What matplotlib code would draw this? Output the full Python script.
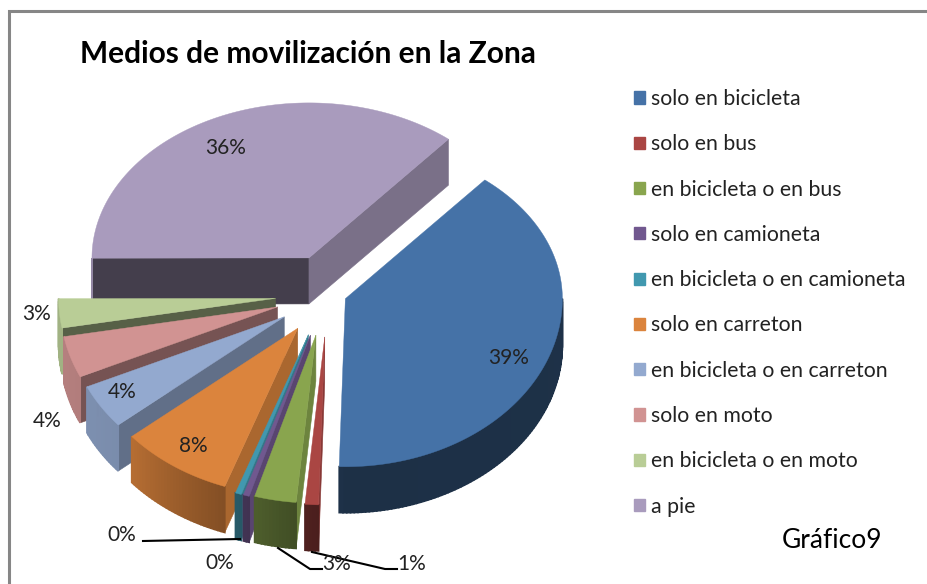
import matplotlib
matplotlib.use('Agg')
import matplotlib.pyplot as plt
import numpy as np
from matplotlib.patches import Patch

plt.rcParams['font.family'] = ['Lato', 'DejaVu Sans']

# datos
categorias = ['solo en bicicleta', 'solo en bus', 'en bicicleta o en bus', 'solo en camioneta',
              'en bicicleta o en camioneta', 'solo en carreton', 'en bicicleta o en carreton',
              'solo en moto', 'en bicicleta o en moto', 'a pie']
valores = [39.3, 1.0, 3.1, 0.45, 0.45, 8.4, 4.3, 4.0, 2.8, 36.1]
colores = ['#4572A7', '#AA4643', '#89A54E', '#71588F', '#4198AF',
           '#DB843D', '#93A9CF', '#D19392', '#B9CD96', '#A99BBD']
explode = [0.125, 0.175, 0.175, 0.18, 0.18, 0.18, 0.195, 0.21, 0.21, 0.12]
ajuste_x = [-1, 6, 2, 1, 0, -1, -1, 0, 0, -1]
ajuste_y = [0, 1, 0, 0, 0, 0, 1, 3, 7, 3]

# geometria del pastel en pixeles
cx, cy = 321, 286
a = 217
b_frente, b_atras = 168, 155
b_exp = 286
prof = 46
inicio = 40


def oscurecer(color, f):
    rgb = np.array(matplotlib.colors.to_rgb(color))
    return tuple(rgb * f)


def sombra_borde(t):
    return np.interp(t, [90, 180, 200, 230, 262], [0.43, 0.42, 0.6, 0.83, 0.87])


def punto(ox, oy, t):
    r = np.radians(t)
    b = np.where(np.cos(r) > 0, b_atras, b_frente)
    return ox + a * np.sin(r), oy - b * np.cos(r)


fig = plt.figure(figsize=(9.27, 5.84), dpi=100)
ax = fig.add_axes([0, 0, 1, 1])
ax.set_xlim(0, 927)
ax.set_ylim(584, 0)
ax.axis('off')

# angulos de cada porcion
bordes = inicio + np.concatenate([[0], np.cumsum(valores)]) * 360 / sum(valores)

porciones = []
for i, v in enumerate(valores):
    t0, t1 = bordes[i], bordes[i + 1]
    tm = np.radians((t0 + t1) / 2)
    ox = cx + explode[i] * a * np.sin(tm) + ajuste_x[i]
    oy = cy - explode[i] * b_exp * np.cos(tm) + ajuste_y[i]
    porciones.append((i, t0, t1, ox, oy))

# de atras hacia adelante
orden = [9, 8, 7, 6, 5, 4, 3, 2, 1, 0]
for i, t0, t1, ox, oy in [porciones[k] for k in orden]:
    col = colores[i]

    # cara radial inicial y final
    caras = [(t0, np.sin(np.radians(t0)) < 0), (t1, np.sin(np.radians(t1)) > 0)]
    for t, visible in caras:
        if visible:
            x, y = punto(ox, oy, t)
            f = 0.4 + 0.4 * abs(np.cos(np.radians(t))) if i != 9 else (0.4 if t < 360 else 0.72)
            ax.fill([ox, x, x, ox], [oy, y, y + prof, oy + prof], color=oscurecer(col, f), lw=0.4)

    # borde exterior, solo la parte de adelante
    ini = max(t0, 90)
    fin = min(t1, 270)
    if fin > ini:
        ts = np.linspace(ini, fin, max(int(fin - ini) + 2, 3))
        for t_a, t_b in zip(ts[:-1], ts[1:]):
            xa, ya = punto(ox, oy, t_a)
            xb, yb = punto(ox, oy, t_b)
            ax.fill([xa, xb, xb, xa], [ya, yb, yb + prof, ya + prof],
                    color=oscurecer(col, sombra_borde((t_a + t_b) / 2)), lw=1.2)

    # cara superior
    ts = np.linspace(t0, t1, max(int(t1 - t0) * 2 + 2, 4))
    xs, ys = punto(ox, oy, ts)
    ax.fill(np.r_[ox, xs], np.r_[oy, ys], color=col, lw=0.3)

# etiquetas
etiq_pos = [(509, 358), (412, 564), (337, 564), (220, 563), (122, 535),
            (193, 446), (122, 392), (47, 421), (37, 314), (226, 148)]
for v, (x, y) in zip(valores, etiq_pos):
    ax.text(x, y, f'{round(v)}%', fontsize=15, color='#222222', ha='center', va='center')

# lineas guia
ax.plot([143, 240], [541, 539], color='black', lw=1.5)
ax.plot([278, 310, 322], [548, 569, 569], color='black', lw=1.5)
ax.plot([312, 385, 397], [552, 569, 569], color='black', lw=1.5)

# titulo
ax.text(80, 54, 'Medios de movilización en la Zona', fontsize=21.5, fontweight='bold',
        color='black', ha='left', va='center')

# leyenda
handles = [Patch(color=c, label=n) for c, n in zip(colores, categorias)]
ax.legend(handles=handles, loc='upper left', bbox_to_anchor=(634 / 927, 1 - 89 / 584),
          bbox_transform=fig.transFigure, frameon=False, fontsize=15.3, labelcolor='#222222',
          handlelength=0.5, handleheight=0.5, handletextpad=0.3, labelspacing=1.19,
          borderpad=0, borderaxespad=0)

ax.text(832, 540, 'Gráfico9', fontsize=19, color='black', ha='center', va='center')

# marco del grafico
ax.plot([9, 9, 927], [584, 11, 11], color='#868686', lw=2.2, solid_joinstyle='miter')

plt.savefig('out.png', dpi=100)
